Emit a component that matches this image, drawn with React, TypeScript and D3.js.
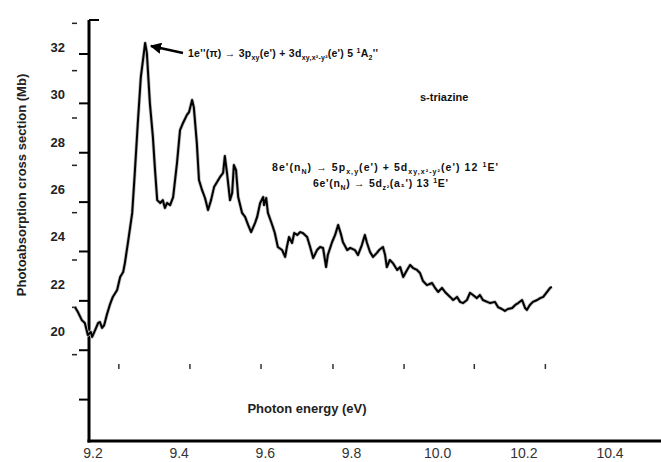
import React from "react";
import * as d3 from "d3";

// photon energy (eV) and cross section (Mb)
const energy = [
  9.158, 9.165, 9.174, 9.181, 9.188, 9.195, 9.198, 9.205, 9.212, 9.216, 9.221, 9.226, 9.232, 9.239,
  9.246, 9.256, 9.263, 9.27, 9.274, 9.281, 9.291, 9.297, 9.304, 9.311, 9.316, 9.321, 9.325, 9.332,
  9.339, 9.344, 9.349, 9.356, 9.362, 9.367, 9.372, 9.379, 9.386, 9.395, 9.402, 9.409, 9.418, 9.423,
  9.43, 9.434, 9.441, 9.446, 9.453, 9.46, 9.467, 9.474, 9.481, 9.488, 9.495, 9.502, 9.506, 9.511,
  9.518, 9.523, 9.527, 9.532, 9.537, 9.546, 9.553, 9.56, 9.567, 9.576, 9.581, 9.588, 9.595, 9.597,
  9.602, 9.606, 9.616, 9.622, 9.629, 9.639, 9.646, 9.65, 9.655, 9.662, 9.667, 9.674, 9.681, 9.687,
  9.697, 9.704, 9.711, 9.72, 9.727, 9.734, 9.741, 9.745, 9.755, 9.762, 9.769, 9.776, 9.78, 9.79,
  9.797, 9.808, 9.815, 9.824, 9.831, 9.836, 9.843, 9.85, 9.859, 9.864, 9.873, 9.878, 9.882, 9.889,
  9.896, 9.906, 9.913, 9.92, 9.929, 9.936, 9.943, 9.952, 9.959, 9.966, 9.975, 9.987, 9.994, 10.001,
  10.01, 10.017, 10.029, 10.036, 10.045, 10.052, 10.059, 10.068, 10.075, 10.082, 10.091, 10.098,
  10.105, 10.115, 10.122, 10.133, 10.14, 10.149, 10.156, 10.163, 10.173, 10.18, 10.187, 10.196,
  10.203, 10.207, 10.214, 10.221, 10.231, 10.238, 10.245, 10.254, 10.261, 10.265,
];
const crossSection = [
  21.01, 20.8, 20.46, 20.34, 19.83, 19.96, 19.75, 20.04, 20.34, 20.38, 20.13, 20.25, 20.68, 21.1,
  21.44, 21.73, 22.28, 22.49, 22.87, 23.72, 24.99, 26.68, 28.79, 30.73, 31.45, 32.17, 31.75, 29.63,
  28.2, 26.8, 25.53, 25.41, 25.53, 25.2, 25.41, 25.32, 25.66, 27.1, 28.49, 28.79, 29.13, 29.25,
  29.76, 29.46, 27.94, 26.38, 25.96, 25.62, 25.11, 25.53, 26.08, 26.3, 26.51, 26.68, 27.39, 26.68,
  25.53, 25.83, 27.01, 26.8, 25.66, 24.99, 24.82, 24.48, 24.18, 24.56, 24.82, 25.41, 25.66, 25.32,
  25.62, 24.99, 24.48, 24.14, 23.55, 23.42, 23.13, 23.55, 23.97, 23.72, 24.14, 24.06, 24.18, 24.14,
  23.97, 23.55, 23.08, 23.42, 23.55, 23.51, 22.7, 23.21, 23.76, 24.06, 24.48, 24.06, 23.76, 23.42,
  23.51, 23.42, 23.21, 23.63, 24.06, 23.72, 23.34, 23.13, 23.3, 23.42, 23.55, 23.21, 22.7, 23.0,
  22.87, 22.58, 22.7, 22.28, 22.58, 22.79, 22.66, 22.58, 22.45, 22.11, 21.94, 22.03, 21.82, 21.65,
  21.82, 21.65, 21.44, 21.31, 21.44, 21.23, 21.18, 21.31, 21.61, 21.52, 21.39, 21.52, 21.31, 21.23,
  21.18, 21.23, 21.01, 20.93, 20.85, 20.93, 20.97, 21.1, 21.18, 21.31, 20.97, 20.89, 21.1, 21.23,
  21.31, 21.39, 21.44, 21.65, 21.82, 21.86,
];

const xTicks = [9.2, 9.4, 9.6, 9.8, 10.0, 10.2, 10.4];
const yLabels = [32, 30, 28, 26, 24, 22, 20];
const yMajorTicks = [32, 30, 28, 26, 24, 22, 20, 18];
const yMinorTicks = [33, 31, 29, 27, 25, 23, 21, 19];
const topMarks = [9.26, 9.425, 9.59, 9.757, 9.922, 10.085, 10.25];

const W = 661;
const H = 462;
const font = "'Liberation Sans', Arial, sans-serif";

export default function App() {
  const x = d3.scaleLinear().domain([9.2, 10.4]).range([93, 610]);
  const y = d3.scaleLinear().domain([20, 32]).range([331, 47]);
  // the drawn tick marks sit on their own spacing, not on the labels
  const yTick = d3.scaleLinear().domain([18, 32]).range([399.6, 54]);

  const pts = energy.map((e, i) => [e, crossSection[i]] as [number, number]);
  const line = d3
    .line<[number, number]>()
    .x((d) => x(d[0]))
    .y((d) => y(d[1]))
    .curve(d3.curveLinear);

  const axisX = 89;
  const baseY = 441;

  return (
    <svg
      width={W}
      height={H}
      style={{ position: "absolute", left: 0, top: 0, background: "#fff" }}
      fontFamily={font}
    >
      {/* frame */}
      <line x1={axisX} y1={20} x2={axisX} y2={baseY + 1.5} stroke="#000" strokeWidth={3} />
      <line x1={axisX - 1.5} y1={baseY} x2={W} y2={baseY} stroke="#000" strokeWidth={3} />
      <line x1={axisX} y1={20} x2={axisX + 10} y2={20} stroke="#000" strokeWidth={2} />

      {yMajorTicks.map((v) => (
        <line key={"M" + v} x1={79} x2={axisX} y1={yTick(v)} y2={yTick(v)} stroke="#000" strokeWidth={2} />
      ))}
      {yMinorTicks.map((v) => (
        <line key={"m" + v} x1={72} x2={77} y1={y(v)} y2={y(v)} stroke="#222" strokeWidth={1.5} />
      ))}
      {yLabels.map((v) => (
        <text key={"l" + v} x={65} y={y(v) + 5} textAnchor="end" fontSize={13} fontWeight="bold" fill="#222">
          {v}
        </text>
      ))}

      {topMarks.map((v) => (
        <line key={"t" + v} x1={x(v)} x2={x(v)} y1={364} y2={369} stroke="#333" strokeWidth={1.5} />
      ))}

      {xTicks.map((v) => (
        <text key={"x" + v} x={x(v)} y={458} textAnchor="middle" fontSize={14} fill="#333">
          {v.toFixed(1)}
        </text>
      ))}

      <text x={307} y={413} textAnchor="middle" fontSize={13} fontWeight="bold" fill="#222">
        Photon energy (eV)
      </text>
      <text
        transform="translate(26,185) rotate(-90)"
        textAnchor="middle"
        fontSize={13}
        fontWeight="bold"
        fill="#222"
      >
        Photoabsorption cross section (Mb)
      </text>

      <path d={line(pts) ?? ""} fill="none" stroke="#bbb" strokeWidth={3.5} strokeLinejoin="round" />
      <path d={line(pts) ?? ""} fill="none" stroke="#000" strokeWidth={2} strokeLinejoin="round" />

      {/* annotations */}
      <defs>
        <marker id="ah" viewBox="0 0 10 10" refX="9" refY="5" markerWidth="4.5" markerHeight="4.5" orient="auto">
          <path d="M0,0 L10,5 L0,10 z" fill="#000" />
        </marker>
      </defs>
      <line x1={183} y1={53} x2={151} y2={46} stroke="#000" strokeWidth={2.5} markerEnd="url(#ah)" />
      <text x={188} y={57} fontSize={10.5} fontWeight="bold" fill="#111" textLength={190} lengthAdjust="spacing">
        1e''(π) → 3p
        <tspan fontSize={7} dy={3}>xy</tspan>
        <tspan dy={-3}>(e') + 3d</tspan>
        <tspan fontSize={7} dy={3}>xy,x²-y²</tspan>
        <tspan dy={-3}>(e') 5 </tspan>
        <tspan fontSize={7} dy={-4}>1</tspan>
        <tspan dy={4}>A</tspan>
        <tspan fontSize={7} dy={3}>2</tspan>
        <tspan dy={-3}>''</tspan>
      </text>

      <text x={420} y={101} fontSize={11} fontWeight="bold" fill="#111">
        s-triazine
      </text>

      <text x={272} y={171} fontSize={10.5} fontWeight="bold" fill="#111" textLength={226} lengthAdjust="spacing">
        8e'(n
        <tspan fontSize={7} dy={3}>N</tspan>
        <tspan dy={-3}>) → 5p</tspan>
        <tspan fontSize={7} dy={3}>x,y</tspan>
        <tspan dy={-3}>(e') + 5d</tspan>
        <tspan fontSize={7} dy={3}>xy,x²-y²</tspan>
        <tspan dy={-3}>(e') 12 </tspan>
        <tspan fontSize={7} dy={-4}>1</tspan>
        <tspan dy={4}>E'</tspan>
      </text>
      <text x={313} y={187} fontSize={10.5} fontWeight="bold" fill="#111" textLength={135} lengthAdjust="spacing">
        6e'(n
        <tspan fontSize={7} dy={3}>N</tspan>
        <tspan dy={-3}>) → 5d</tspan>
        <tspan fontSize={7} dy={3}>z²</tspan>
        <tspan dy={-3}>(a₁') 13 </tspan>
        <tspan fontSize={7} dy={-4}>1</tspan>
        <tspan dy={4}>E'</tspan>
      </text>
    </svg>
  );
}
